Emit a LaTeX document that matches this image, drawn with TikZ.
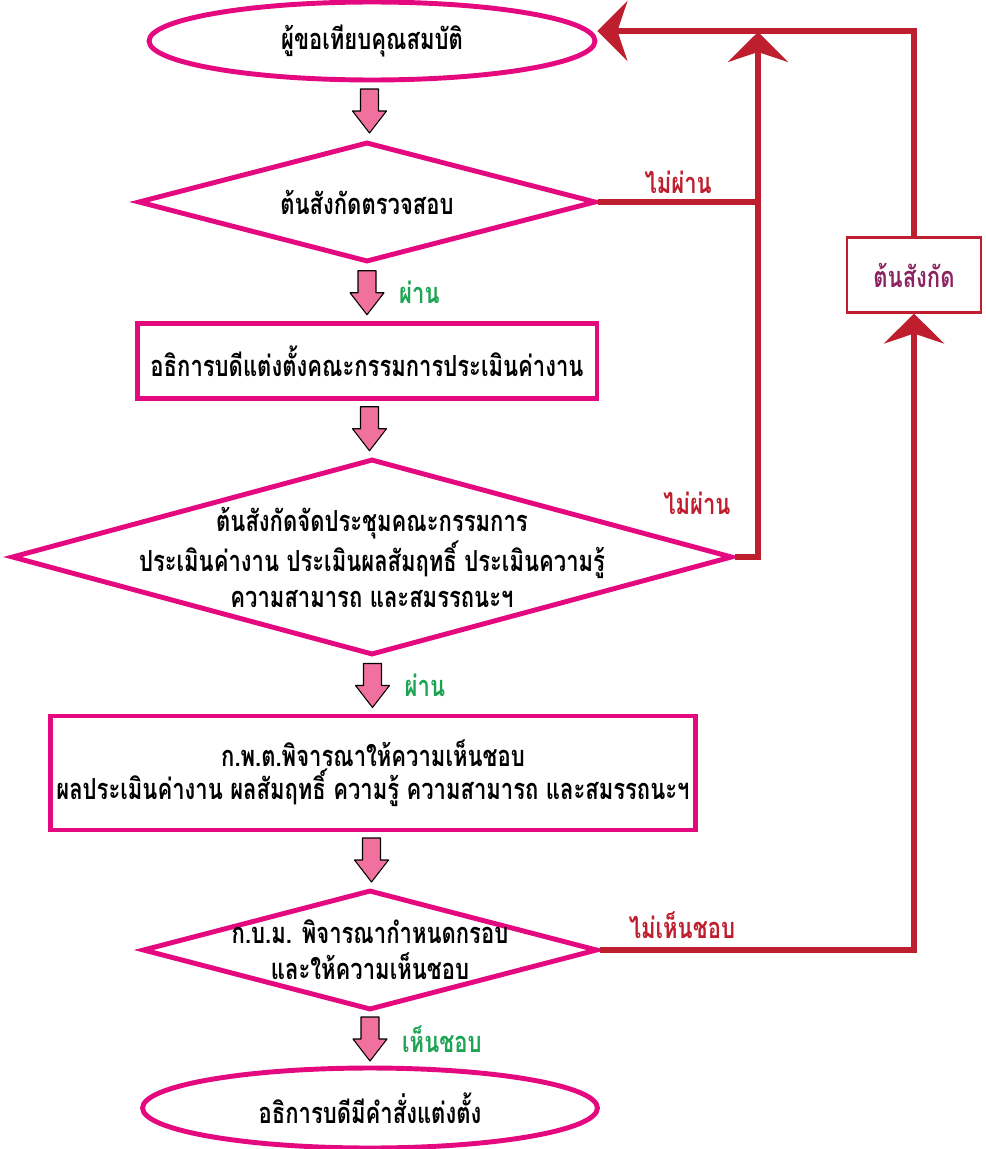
\documentclass[tikz,border=0pt]{standalone}
\usepackage{fontspec}
\newfontfamily\thaifont[Script=Thai,FakeStretch=0.76]{Loma}
\usetikzlibrary{shapes.geometric,arrows.meta,calc,positioning}
\definecolor{flowpink}{HTML}{E5097F}
\definecolor{arrowpink}{HTML}{F0719E}
\definecolor{backred}{HTML}{BE1E2D}
\definecolor{passgreen}{HTML}{1DA453}
\definecolor{boxpurple}{HTML}{8C2361}
\tikzset{
  pics/fatdown/.style={code={
    \draw[black, line width=0.6pt, fill=arrowpink, line join=round]
      (-9,-22) -- (9,-22) -- (9,0) -- (17,0) -- (0,22) -- (-17,0) -- (-9,0) -- cycle;}},
  back/.style={draw=backred, line width=3.4pt},
  backtip/.style={-{Stealth[length=0.6cm,width=1.2cm,inset=0.2cm]}}
}
\begin{document}
\begin{tikzpicture}
  [x=0.02cm,y=-0.02cm,
   every node/.style={font=\thaifont\bfseries\fontsize{16.5}{20.5}\selectfont},
   term/.style={ellipse,draw=flowpink,line width=2.8pt,fill=white},
   proc/.style={rectangle,draw=flowpink,line width=2.8pt,fill=white,align=center},
   dec/.style={diamond,draw=flowpink,line width=2.8pt,fill=white,inner sep=0pt},
   lbl/.style={text=backred},
   ok/.style={text=passgreen,anchor=west}]
  \useasboundingbox (0,0) rectangle (986,1149);

  % main column
  \node[term,minimum width=8.92cm,minimum height=1.56cm] (start) at (372,41) {ผู้ขอเทียบคุณสมบัติ};
  \node[dec,minimum width=9.16cm,minimum height=2.4cm] (chk) at (367,202) {};
  \node at (chk) {ต้นสังกัดตรวจสอบ};
  \node[proc,minimum width=9.2cm,minimum height=1.5cm] (appoint) at (367,361) {อธิการบดีแต่งตั้งคณะกรรมการประเมินค่างาน};
  \node[dec,minimum width=14.42cm,minimum height=3.92cm] (meet) at (372,557) {};
  \node[align=center] at (meet) {ต้นสังกัดจัดประชุมคณะกรรมการ\\ประเมินค่างาน ประเมินผลสัมฤทธิ์ ประเมินความรู้\\ความสามารถ และสมรรถนะฯ};
  \node[proc,minimum width=12.8cm,minimum height=2.28cm] (kpt) at (373,773) {ก.พ.ต.พิจารณาให้ความเห็นชอบ\\[-2pt]ผลประเมินค่างาน ผลสัมฤทธิ์ ความรู้ ความสามารถ และสมรรถนะฯ};
  \node[dec,minimum width=9.1cm,minimum height=2.4cm] (kbm) at (370,950) {};
  \node[align=center] at (kbm) {ก.บ.ม. พิจารณากำหนดกรอบ\\และให้ความเห็นชอบ};
  \node[term,minimum width=9.1cm,minimum height=1.6cm] (done) at (370,1108) {อธิการบดีมีคำสั่งแต่งตั้ง};

  % fat arrows between steps
  \coordinate (m1) at ($(start.south)!.5!(chk.north)$);
  \coordinate (m2) at ($(chk.south)!.5!(appoint.north)$);
  \coordinate (m3) at ($(appoint.south)!.5!(meet.north)$);
  \coordinate (m4) at ($(meet.south)!.5!(kpt.north)$);
  \coordinate (m5) at ($(kpt.south)!.5!(kbm.north)$);
  \coordinate (m6) at ($(kbm.south)!.5!(done.north)$);
  \foreach \m in {m1,m2,m3,m4,m5,m6}
    \pic at (\m) {fatdown};
  \node[ok] at ($(m2)+(26,0)$) {ผ่าน};
  \node[ok] at ($(m4)+(26,0)$) {ผ่าน};
  \node[ok] at ($(m6)+(26,0)$) {เห็นชอบ};

  % return paths
  \node[draw=backred,line width=1.2pt,text=boxpurple,minimum width=2.68cm,minimum height=1.5cm] (unit) at (914,275) {ต้นสังกัด};
  \coordinate (jtop) at (758,32);
  \draw[back] (chk.east) -- node[lbl,above] {ไม่ผ่าน} (chk.east -| jtop);
  \draw[back,backtip] (meet.east) -| (jtop);
  \node[lbl] at ($(meet.east)+(-38,-54)$) {ไม่ผ่าน};
  \draw[back,backtip] (kbm.east) -| (unit.south);
  \node[lbl] at ($(kbm.east)+(82,-25)$) {ไม่เห็นชอบ};
  \draw[back,backtip] (unit.north) |- ([yshift=0.2cm]start.east);
\end{tikzpicture}
\end{document}
